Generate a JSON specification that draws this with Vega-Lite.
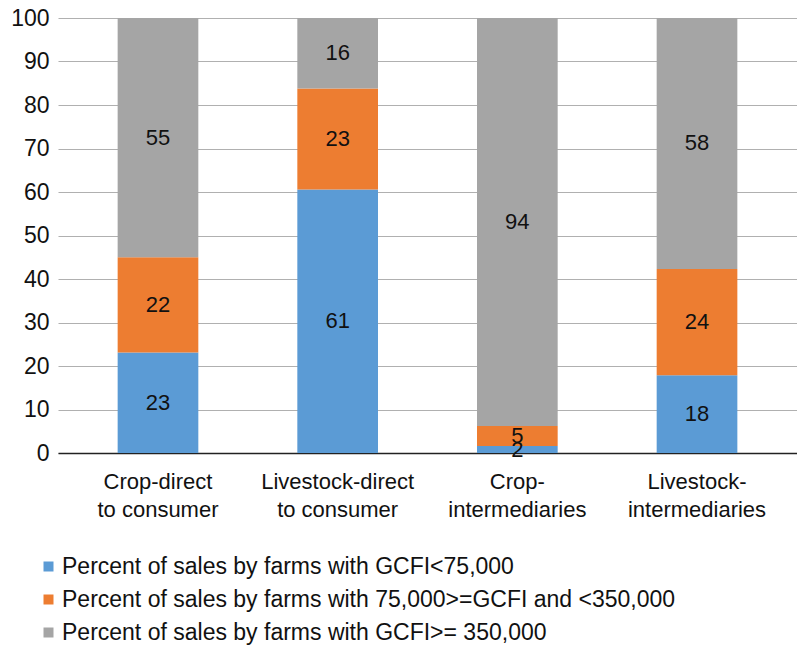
{
  "$schema": "https://vega.github.io/schema/vega-lite/v6.json",
  "width": 739,
  "height": 435,
  "autosize": {"type": "none"},
  "padding": {"left": 58, "top": 18, "right": 0, "bottom": 192},
  "background": "white",
  "config": {
    "font": "Liberation Sans",
    "view": {"stroke": null}
  },
  "data": {
    "values": [
      {"cat": "Crop-direct to consumer", "series": "Percent of sales by farms with GCFI<75,000", "k": 1, "value": 23.1},
      {"cat": "Crop-direct to consumer", "series": "Percent of sales by farms with 75,000>=GCFI and <350,000", "k": 2, "value": 21.9},
      {"cat": "Crop-direct to consumer", "series": "Percent of sales by farms with GCFI>= 350,000", "k": 3, "value": 55.0},
      {"cat": "Livestock-direct to consumer", "series": "Percent of sales by farms with GCFI<75,000", "k": 1, "value": 60.6},
      {"cat": "Livestock-direct to consumer", "series": "Percent of sales by farms with 75,000>=GCFI and <350,000", "k": 2, "value": 23.2},
      {"cat": "Livestock-direct to consumer", "series": "Percent of sales by farms with GCFI>= 350,000", "k": 3, "value": 16.2},
      {"cat": "Crop-intermediaries", "series": "Percent of sales by farms with GCFI<75,000", "k": 1, "value": 1.6},
      {"cat": "Crop-intermediaries", "series": "Percent of sales by farms with 75,000>=GCFI and <350,000", "k": 2, "value": 4.6},
      {"cat": "Crop-intermediaries", "series": "Percent of sales by farms with GCFI>= 350,000", "k": 3, "value": 93.8},
      {"cat": "Livestock-intermediaries", "series": "Percent of sales by farms with GCFI<75,000", "k": 1, "value": 17.9},
      {"cat": "Livestock-intermediaries", "series": "Percent of sales by farms with 75,000>=GCFI and <350,000", "k": 2, "value": 24.4},
      {"cat": "Livestock-intermediaries", "series": "Percent of sales by farms with GCFI>= 350,000", "k": 3, "value": 57.7}
    ]
  },
  "encoding": {
    "x": {
      "field": "cat",
      "type": "nominal",
      "sort": ["Crop-direct to consumer", "Livestock-direct to consumer", "Crop-intermediaries", "Livestock-intermediaries"],
      "scale": {"paddingInner": 0.551, "paddingOuter": 0.332},
      "axis": {
        "title": null,
        "labelAngle": 0,
        "ticks": false,
        "domain": true,
        "domainColor": "#222222",
        "domainWidth": 1.5,
        "labelFontSize": 22,
        "labelColor": "#111111",
        "labelPadding": 18,
        "labelLineHeight": 28,
        "labelBaseline": "top",
        "labelExpr": "datum.value == 'Crop-direct to consumer' ? ['Crop-direct', 'to consumer'] : datum.value == 'Livestock-direct to consumer' ? ['Livestock-direct', 'to consumer'] : datum.value == 'Crop-intermediaries' ? ['Crop-', 'intermediaries'] : ['Livestock-', 'intermediaries']"
      }
    }
  },
  "layer": [
    {
      "mark": {"type": "bar"},
      "encoding": {
        "y": {
          "field": "value",
          "type": "quantitative",
          "stack": "zero",
          "scale": {"domain": [0, 100], "nice": false},
          "axis": {
            "title": null,
            "values": [0, 10, 20, 30, 40, 50, 60, 70, 80, 90, 100],
            "ticks": false,
            "domain": false,
            "grid": true,
            "gridColor": "#b0b0b0",
            "gridWidth": 1.2,
            "labelFontSize": 23,
            "labelColor": "#111111",
            "labelPadding": 9
          }
        },
        "order": {"field": "k", "type": "quantitative"},
        "color": {
          "field": "series",
          "type": "nominal",
          "sort": ["Percent of sales by farms with GCFI<75,000", "Percent of sales by farms with 75,000>=GCFI and <350,000", "Percent of sales by farms with GCFI>= 350,000"],
          "scale": {
            "domain": ["Percent of sales by farms with GCFI<75,000", "Percent of sales by farms with 75,000>=GCFI and <350,000", "Percent of sales by farms with GCFI>= 350,000"],
            "range": ["#5B9BD5", "#ED7D31", "#A5A5A5"]
          },
          "legend": {
            "title": null,
            "orient": "none",
            "legendX": -21,
            "legendY": 537,
            "direction": "vertical",
            "symbolType": "square",
            "symbolSize": 100,
            "symbolStrokeWidth": 0,
            "labelFontSize": 23,
            "labelColor": "#111111",
            "labelOffset": 2,
            "rowPadding": 9,
            "labelLimit": 800
          }
        }
      }
    },
    {
      "transform": [
        {"stack": "value", "groupby": ["cat"], "sort": [{"field": "k"}], "as": ["y0", "y1"]},
        {"fold": ["y0", "y1"], "as": ["edge", "pos"]},
        {"aggregate": [{"op": "mean", "field": "pos", "as": "mid"}], "groupby": ["cat", "k", "value"]}
      ],
      "mark": {"type": "text", "fontSize": 22, "color": "#111111", "baseline": "middle", "align": "center"},
      "encoding": {
        "y": {"field": "mid", "type": "quantitative"},
        "text": {"field": "value", "type": "quantitative", "format": ".0f"}
      }
    }
  ]
}
